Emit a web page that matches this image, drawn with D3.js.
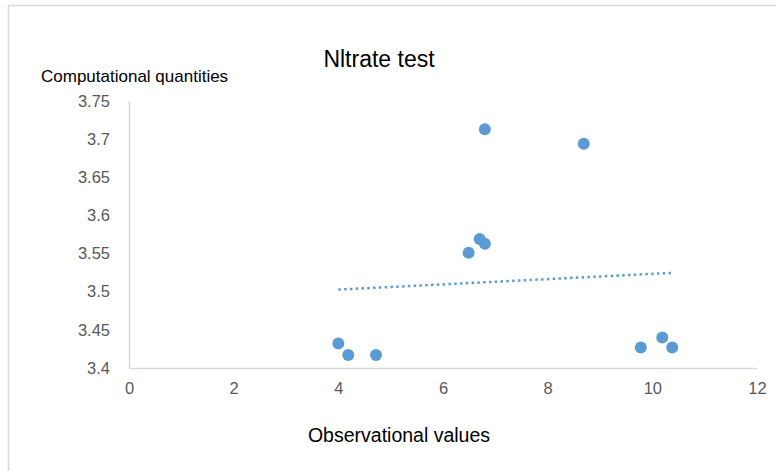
<!DOCTYPE html>
<html>
<head>
<meta charset="utf-8">
<script src="https://cdn.jsdelivr.net/npm/d3@7"></script>
<style>
body { margin:0; background:#fff; }
text { font-family: "Liberation Sans", Arial, sans-serif; }
</style>
</head>
<body>
<div id="chart"></div>
<script>
// observed vs computed nitrate values
var obs = [6.80, 8.69, 6.70, 6.80, 6.49, 4.00, 4.19, 4.72, 9.78, 10.19, 10.38];
var calc = [3.713, 3.694, 3.569, 3.563, 3.551, 3.432, 3.417, 3.417, 3.427, 3.440, 3.427];

var xticks = [0, 2, 4, 6, 8, 10, 12];
var yticks = [3.4, 3.45, 3.5, 3.55, 3.6, 3.65, 3.7, 3.75];

var w = 776;
var h = 471;
var blue = "#5b9bd5";

var data = obs.map(function(d,i){ return {x:d, y:calc[i]}; });

var xscale = d3.scaleLinear()
	.domain([0,12])
	.range([129,757]);

var yscale = d3.scaleLinear()
	.domain([3.4,3.75])
	.range([368,101]);

var svg = d3.select("#chart")
	.append("svg")
	.attr("width",w)
	.attr("height",h)
	.style("background","#FFFFFF");

// outer chart border
svg.append("rect")
	.attr("x",8.5)
	.attr("y",5.5)
	.attr("width",w+20)
	.attr("height",h+20)
	.attr("fill","none")
	.attr("stroke","#d9d9d9")
	.attr("stroke-width",1.5);

var xaxis = svg.append("g")
	.attr("transform","translate(0,368)")
	.call(d3.axisBottom(xscale).tickValues(xticks).tickSize(0).tickPadding(14).tickFormat(d3.format("d")));

var yaxis = svg.append("g")
	.attr("transform","translate(129,0)")
	.call(d3.axisLeft(yscale).tickValues(yticks).tickSize(0).tickPadding(19).tickFormat(function(d){ return String(+d.toFixed(2)); }));

svg.selectAll(".domain")
	.attr("stroke","#d9d9d9")
	.attr("stroke-width",1.5);

svg.selectAll(".tick text")
	.attr("fill","#595959")
	.style("font-size","16.5px")
	.style("font-family","'Liberation Sans', Arial, sans-serif");

// linear trendline (least squares)
var mx = d3.mean(obs), my = d3.mean(calc);
var sxy = d3.sum(data, function(d){ return (d.x-mx)*(d.y-my); });
var sxx = d3.sum(data, function(d){ return (d.x-mx)*(d.x-mx); });
var slope = sxy/sxx;
var icpt = my - slope*mx;
var ext = d3.extent(obs);
var trend = ext.map(function(x){ return {x:x, y:icpt+slope*x}; });

svg.append("path")
	.datum(trend)
	.attr("d", d3.line().x(function(d){return xscale(d.x)}).y(function(d){return yscale(d.y)}))
	.attr("fill","none")
	.attr("stroke",blue)
	.attr("stroke-width",2.5)
	.attr("stroke-dasharray","2.5,3.3");

svg.selectAll("circle")
	.data(data)
	.enter()
	.append("circle")
	.attr("cx",function(d){return xscale(d.x)})
	.attr("cy",function(d){return yscale(d.y)})
	.attr("r",6)
	.attr("fill",blue);

svg.append("text")
	.attr("x",379)
	.attr("y",67)
	.attr("text-anchor","middle")
	.style("font-size","23px")
	.attr("fill","#000")
	.text("Nltrate test");

svg.append("text")
	.attr("x",41)
	.attr("y",82)
	.style("font-size","17px")
	.attr("fill","#000")
	.text("Computational quantities");

svg.append("text")
	.attr("x",399)
	.attr("y",442)
	.attr("text-anchor","middle")
	.style("font-size","19.5px")
	.attr("fill","#000")
	.text("Observational values");
</script>
</body>
</html>
